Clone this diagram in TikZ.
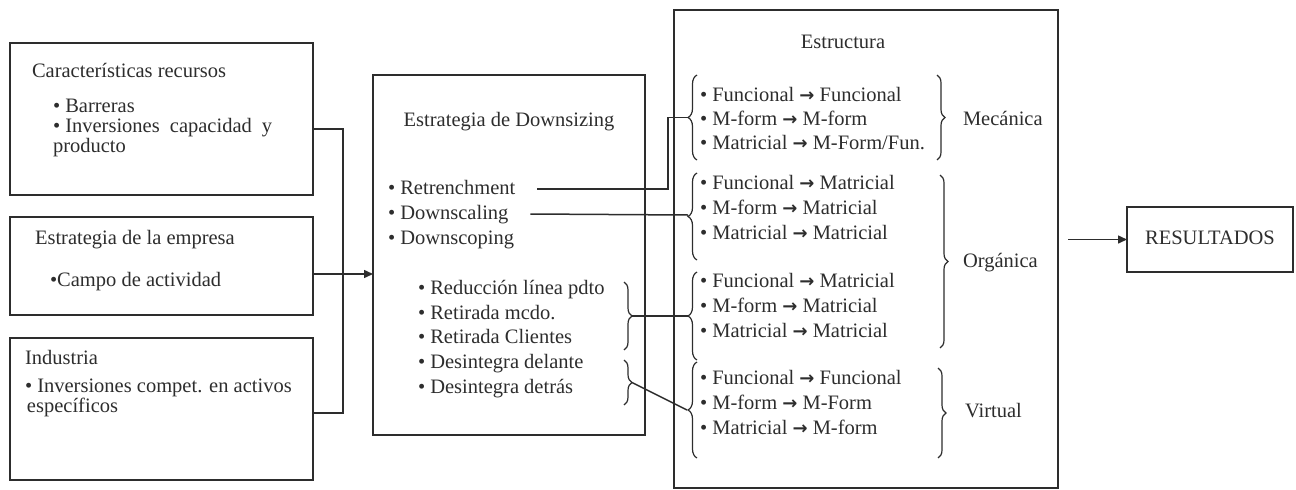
\documentclass[tikz,border=0pt]{standalone}
\usepackage{fontspec}
\setmainfont{Liberation Serif}
\newfontfamily\arrowfont{DejaVu Sans}
\newcommand{\myarr}{{\arrowfont\bfseries\fontsize{18}{24}\selectfont →}}
\usetikzlibrary{arrows.meta,decorations.pathreplacing,calc}
\definecolor{ink}{RGB}{45,45,45}
\begin{document}
\begin{tikzpicture}[x=1pt,y=-1pt,
  every node/.style={inner sep=0pt,outer sep=0pt},
  txt/.style={anchor=west,text height=14pt,text depth=4.5pt,font=\fontsize{20.5}{24}\selectfont,text=ink},
  ctxt/.style={txt,anchor=center},
  boxx/.style={draw=ink,line width=1.5pt,rectangle},
  conn/.style={draw=ink,line width=1.5pt},
  brL/.style={draw=ink,line width=1.2pt,decorate,decoration={brace,amplitude=9pt}},
  brR/.style={draw=ink,line width=1.2pt,decorate,decoration={brace,amplitude=8pt}},
  arr/.style={conn,-{Triangle[length=9pt,width=8pt]}}
]
\useasboundingbox (0,0) rectangle (1296,490);
% boxes
\node[boxx,minimum width=303pt,minimum height=152pt] (box1) at (161.5,119) {};
\node[boxx,minimum width=303pt,minimum height=98pt] (box2) at (161.5,266) {};
\node[boxx,minimum width=303pt,minimum height=142pt] (box3) at (161.5,409) {};
\node[boxx,minimum width=272pt,minimum height=360pt] (boxD) at (509,255) {};
\node[boxx,minimum width=384pt,minimum height=478pt] (boxE) at (866,249) {};
\node[boxx,minimum width=166pt,minimum height=65pt] (boxR) at (1210,239.5) {};
% box 1 text
\node[txt] (t11) at (32,73) {Características recursos};
\node[txt] (t12) at (53,108) {• Barreras};
\node[txt] (t13) at (53,128) {• Inversiones\hspace{5pt} capacidad\hspace{5pt} y};
\node[txt] (t14) at (53,148) {producto};
% box 2 text
\node[txt] (t21) at (35,240) {Estrategia de la empresa};
\node[txt] (t22) at (50,282) {•Campo de actividad};
% box 3 text
\node[txt] (t31) at (25,360) {Industria};
\node[txt] (t32) at (25,388) {• Inversiones compet. en activos};
\node[txt] (t33) at (27,408) {específicos};
% downsizing
\node[ctxt] (dtit) at (509,122) {Estrategia de Downsizing};
\node[txt] (retr) at (388,190) {• Retrenchment};
\node[txt] (dsca) at (388,215) {• Downscaling};
\node[txt] (dsco) at (388,240) {• Downscoping};
\node[txt] (s1) at (418,290) {• Reducción línea pdto};
\node[txt] (s2) at (418,315) {• Retirada mcdo.};
\node[txt] (s3) at (418,339) {• Retirada Clientes};
\node[txt] (s4) at (418,364) {• Desintegra delante};
\node[txt] (s5) at (418,389) {• Desintegra detrás};
% estructura
\node[ctxt] (etit) at (843,44) {Estructura};
\node[txt] (m1) at (700,97) {• Funcional \myarr{} Funcional};
\node[txt] (m2) at (700,121) {• M-form \myarr{} M-form};
\node[txt] (m3) at (700,145) {• Matricial \myarr{} M-Form/Fun.};
\node[txt] (o1) at (700,185) {• Funcional \myarr{} Matricial};
\node[txt] (o2) at (700,210) {• M-form \myarr{} Matricial};
\node[txt] (o3) at (700,235) {• Matricial \myarr{} Matricial};
\node[txt] (o4) at (700,283) {• Funcional \myarr{} Matricial};
\node[txt] (o5) at (700,308) {• M-form \myarr{} Matricial};
\node[txt] (o6) at (700,333) {• Matricial \myarr{} Matricial};
\node[txt] (v1) at (700,380) {• Funcional \myarr{} Funcional};
\node[txt] (v2) at (700,405) {• M-form \myarr{} M-Form};
\node[txt] (v3) at (700,430) {• Matricial \myarr{} M-form};
\node[txt] (lmec) at (963,121) {Mecánica};
\node[txt] (lorg) at (963,263) {Orgánica};
\node[txt] (lvir) at (965,413) {Virtual};
\node[ctxt] (res) at (boxR.center) {RESULTADOS};
% braces
\draw[brL] (697,160) -- (697,75);
\draw[brL] (697,260) -- (697,173);
\draw[brL] (697,360) -- (697,272);
\draw[brL] (697,458) -- (697,362);
\draw[brR] (937,75) -- (937,160);
\draw[brR] (940,175) -- (940,348);
\draw[brR] (938,368) -- (938,458);
\draw[brR] (624,282) -- (624,350);
\draw[brR] (624,360) -- (624,405);
% brace tips
\coordinate (mecTip) at (688,117.5);
\coordinate (org1Tip) at (688,216.5);
\coordinate (org2Tip) at (688,316);
\coordinate (virTip) at (687,410);
\coordinate (subATip) at (632,316);
\coordinate (subBTip) at (632,382.5);
\coordinate (resStart) at (1068,239.5);
% connectors
\draw[conn] ([yshift=-10pt]box1.east) -- ++(30,0) |- ([yshift=-4pt]box3.east);
\draw[arr] ([yshift=-8pt]box2.east) -- ([yshift=-8pt]box2.east -| boxD.west);
\draw[conn] ([xshift=22pt,yshift=1pt]retr.east) -| ($(mecTip)+(-20,0)$) -- (mecTip);
\draw[conn] ([xshift=22pt,yshift=1pt]dsca.east) -- (dsca.east -| org1Tip);
\draw[conn] (subATip) -- (org2Tip);
\draw[conn] (subBTip) -- (virTip);
\draw[arr] (resStart) -- (boxR.west);
\end{tikzpicture}
\end{document}
